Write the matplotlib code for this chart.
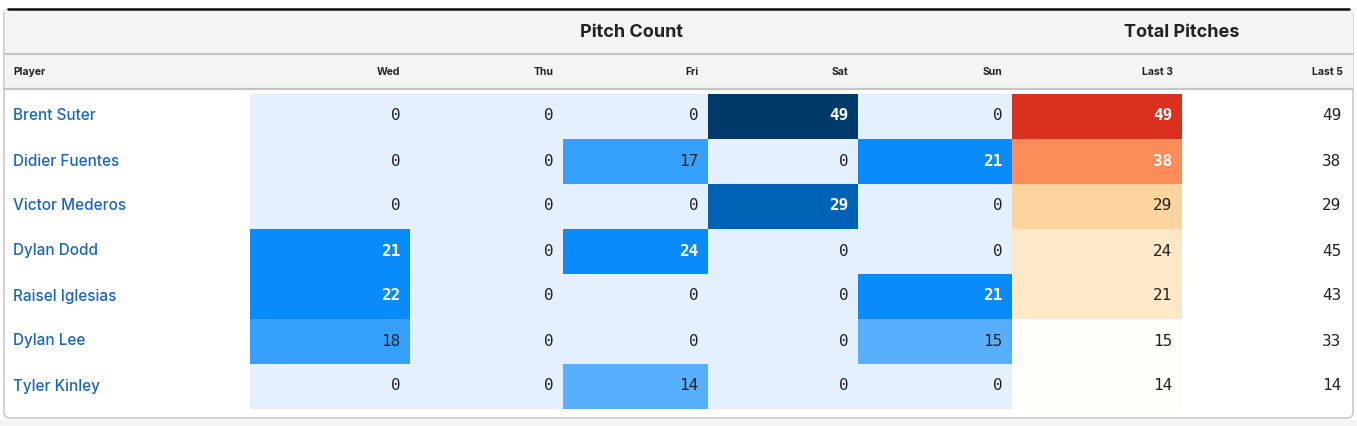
import matplotlib
matplotlib.use("Agg")
import matplotlib.pyplot as plt
from matplotlib.patches import Rectangle, FancyBboxPatch

players = ["Brent Suter", "Didier Fuentes", "Victor Mederos", "Dylan Dodd",
           "Raisel Iglesias", "Dylan Lee", "Tyler Kinley"]
days = ["Wed", "Thu", "Fri", "Sat", "Sun"]
wed = [0, 0, 0, 21, 22, 18, 0]
thu = [0, 0, 0, 0, 0, 0, 0]
fri = [0, 17, 0, 24, 0, 0, 14]
sat = [49, 0, 29, 0, 0, 0, 0]
sun = [0, 21, 0, 0, 21, 15, 0]
last3 = [49, 38, 29, 24, 21, 15, 14]
last5 = [49, 38, 29, 45, 43, 33, 14]
group_titles = ["Pitch Count", "Total Pitches"]
total_labels = ["Last 3", "Last 5"]


def blue(v):
    if v >= 40:
        return "#003a6a", "white"
    if v >= 27:
        return "#0062b4", "white"
    if v >= 19:
        return "#0a8bfc", "white"
    if v >= 16:
        return "#36a1fd", "#222222"
    if v >= 1:
        return "#57affd", "#222222"
    return "#e4f0fd", "#222222"


def orange(v):
    if v >= 45:
        return "#d9301f", "white"
    if v >= 33:
        return "#fc8c59", "white"
    if v >= 27:
        return "#fdd49e", "#222222"
    if v >= 18:
        return "#fee8c8", "#222222"
    return "#fffdfa", "#222222"


W, H = 1357, 426
fig = plt.figure(figsize=(W / 100, H / 100), dpi=100)
ax = fig.add_axes([0, 0, 1, 1])
ax.set_xlim(0, W)
ax.set_ylim(H, 0)
ax.axis("off")

# background below card
ax.add_patch(Rectangle((0, 420), W, 10, color="#f4f4f4", zorder=0))
# card
ax.add_patch(FancyBboxPatch((4, 9), 1349, 409, boxstyle="round,pad=0,rounding_size=6",
                            facecolor="white", edgecolor="#c8c8c8", lw=1.2, zorder=1))
# header backgrounds
ax.add_patch(Rectangle((4.6, 9.5), 1347.8, 79, color="#f4f4f4", zorder=2))
ax.plot([5, 1352], [53.5, 53.5], color="#c4c4c4", lw=1.5, zorder=3)
ax.plot([5, 1352], [88.5, 88.5], color="#c4c4c4", lw=1.5, zorder=3)
# black top border
ax.plot([8, 1349], [9, 9], color="#111111", lw=1.8, zorder=4, solid_capstyle="round")

col_edges = [250, 410, 563, 708, 858, 1012, 1182, 1352]
row_top = 93.5
row_h = 45
pad = 9.5

num_font = dict(family="DejaVu Sans Mono", fontsize=11.5)
head_font = ["Inter", "Roboto", "DejaVu Sans"]

# group titles
ax.text((col_edges[0] + col_edges[5]) / 2, 32.5, group_titles[0], ha="center", va="center",
        fontsize=13, fontweight="bold", family=head_font, color="#222222", zorder=5)
ax.text((col_edges[5] + col_edges[7]) / 2, 32.5, group_titles[1], ha="center", va="center",
        fontsize=13, fontweight="bold", family=head_font, color="#222222", zorder=5)

# column headers
ax.text(13, 72, "Player", ha="left", va="center", fontsize=7.5, fontweight="bold",
        family=head_font, color="#222222", zorder=5)
for i, lab in enumerate(days + total_labels):
    ax.text(col_edges[i + 1] - pad, 72, lab, ha="right", va="center", fontsize=7.5,
            fontweight="bold", family=head_font, color="#222222", zorder=5)

day_values = [wed, thu, fri, sat, sun]
for r, name in enumerate(players):
    y0 = row_top + r * row_h
    yc = y0 + row_h / 2
    ax.text(13, yc, name, ha="left", va="center", fontsize=11, family=head_font,
            fontweight="medium", color="#1a64bc", zorder=5)
    for c, vals in enumerate(day_values):
        fc, tc = blue(vals[r])
        x0, x1 = col_edges[c], col_edges[c + 1]
        ax.add_patch(Rectangle((x0, y0), x1 - x0, row_h, color=fc, lw=0, zorder=3))
        ax.text(x1 - pad, yc, str(vals[r]), ha="right", va="center", color=tc,
                fontweight="bold" if tc == "white" else "normal", zorder=5, **num_font)
    fc, tc = orange(last3[r])
    x0, x1 = col_edges[5], col_edges[6]
    ax.add_patch(Rectangle((x0, y0), x1 - x0, row_h, color=fc, lw=0, zorder=3))
    ax.text(x1 - pad, yc, str(last3[r]), ha="right", va="center", color=tc,
            fontweight="bold" if tc == "white" else "normal", zorder=5, **num_font)
    ax.text(col_edges[7] - pad - 1, yc, str(last5[r]), ha="right", va="center",
            color="#222222", zorder=5, **num_font)

fig.savefig("out.png", dpi=100)
